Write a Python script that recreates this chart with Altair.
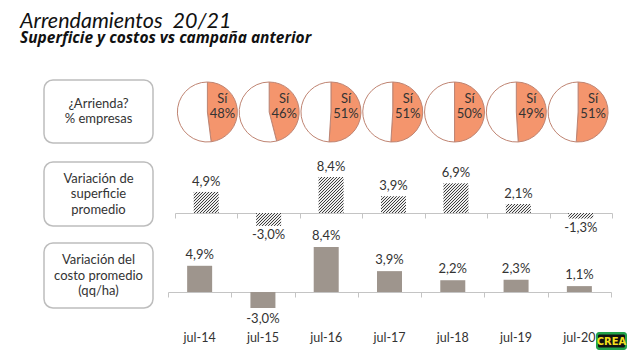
import math
import altair as alt
import pandas as pd

# ---------------- data ----------------
cats = ["jul-14", "jul-15", "jul-16", "jul-17", "jul-18", "jul-19", "jul-20"]
arrienda_pct = [48, 46, 51, 51, 50, 49, 51]
var_superficie = [4.9, -3.0, 8.4, 3.9, 6.9, 2.1, -1.3]
var_costo = [4.9, -3.0, 8.4, 3.9, 2.2, 2.3, 1.1]

title_text = "Arrendamientos\u00a0 20/21"
subtitle_text = "Superficie y costos vs campaña anterior"
row_labels = [
    ["¿Arrienda?", "% empresas"],
    ["Variación de", "superficie", "promedio"],
    ["Variación del", "costo promedio", "(qq/ha)"],
]
si_word = "Sí"
logo_text = "CREA"


def pct(v):
    return f"{v:.1f}".replace(".", ",") + "%"


df_pie = pd.DataFrame(
    [r for c, p in zip(cats, arrienda_pct) for r in (
        {"cat": c, "slice": "Sí", "t0": 0.0, "t1": p / 100},
        {"cat": c, "slice": "No", "t0": p / 100, "t1": 1.0},
    )]
)
df_pie_lab = pd.DataFrame({"cat": cats, "label": [f"{si_word}\n{p}%" for p in arrienda_pct]})
df_sup = pd.DataFrame({"cat": cats, "v": var_superficie, "label": [pct(v) for v in var_superficie]})
df_cost = pd.DataFrame({"cat": cats, "v": var_costo, "label": [pct(v) for v in var_costo]})
df_cats = pd.DataFrame({"cat": cats})
one = alt.Data(values=[{"k": 0}])

# ---------------- style ----------------
FONT = "Lato"
W, H = 624, 346
ORANGE = "#F4956D"
PIE_STROKE = "#BF8472"
BAR_GRAY = "#9E958D"
AXIS_GRAY = "#C4C4C4"
TXT = "#333333"
HATCH_DARK = "#3E3E3E"
HATCH_LIGHT = "#EEEEEE"
BAR_W = 25
HATCH_P = 3.0
HATCH_FRAC = 1.0 / 3.0

X_PIE = [168.5, 601]
X_MID = [167, 604]
X_BOT = [160, 603]
PIE_Y, PIE_R = 104, 30
MID_ZERO, MID_UNIT = 205, 4.3
BOT_ZERO, BOT_UNIT = 284, 5.35
DOM = [-4, 10]
BOXES = [(72, 135), (154, 218), (235, 300)]
BOX_X = (36, 145)
BOX_LH = 15.5


def xenc(rng, kind, axis=None):
    if kind == "band":
        sc = alt.Scale(type="band", domain=cats, range=rng, paddingInner=0, paddingOuter=0)
    else:
        sc = alt.Scale(type="point", domain=cats, range=rng, padding=0.5)
    return alt.X("cat:N", scale=sc, axis=axis)


def yenc(zero, unit):
    sc = alt.Scale(domain=DOM, range=[zero - DOM[0] * unit, zero - DOM[1] * unit], nice=False, zero=False)
    return alt.Y("v:Q", scale=sc, axis=None)


def axis_at(zero_y):
    return alt.Axis(
        orient="bottom", offset=zero_y - H, labels=False, title=None, grid=False,
        tickBand="extent", tickSize=5, tickColor=AXIS_GRAY, tickWidth=1,
        domainColor=AXIS_GRAY, domainWidth=1.2,
    )


def hatch(v, unit):
    hpx = max(abs(v) * unit, 1.0)
    b = hpx / BAR_W
    s = (1 + b) / (1 + b * b)
    n = BAR_W * (1 + b) / HATCH_P
    period = 1.0 / n
    stops = []
    t = 0.0
    while t < 1.0 - 1e-9:
        m = min(t + period * HATCH_FRAC, 1.0)
        e = min(t + period, 1.0)
        stops += [
            alt.GradientStop(offset=round(t, 6), color=HATCH_DARK),
            alt.GradientStop(offset=round(m, 6), color=HATCH_DARK),
            alt.GradientStop(offset=round(m, 6), color=HATCH_LIGHT),
            alt.GradientStop(offset=round(e, 6), color=HATCH_LIGHT),
        ]
        t += period
    return alt.LinearGradient(gradient="linear", stops=stops, x1=0, y1=0, x2=s, y2=s * b)


layers = []

# titles
layers.append(alt.Chart(one).mark_text(
    text=title_text, font=FONT, fontSize=21.5, fontStyle="italic", align="left",
    baseline="alphabetic", color="#111111").encode(x=alt.value(12), y=alt.value(20)))
layers.append(alt.Chart(one).mark_text(
    text=subtitle_text, font="Open Sans", fontSize=15.5, fontStyle="italic", fontWeight="bold",
    align="left", baseline="alphabetic", color="#111111").encode(x=alt.value(12), y=alt.value(35)))

# row label boxes
for lines, (y0, y1) in zip(row_labels, BOXES):
    layers.append(alt.Chart(one).mark_rect(
        cornerRadius=9, fill="white", stroke="#BDBDBD", strokeWidth=1.5).encode(
        x=alt.value(BOX_X[0]), x2=alt.value(BOX_X[1]), y=alt.value(y0), y2=alt.value(y1)))
    first_y = (y0 + y1) / 2 - (len(lines) - 1) * BOX_LH / 2
    layers.append(alt.Chart(one).mark_text(
        text=lines, font=FONT, fontSize=13, lineHeight=BOX_LH, align="center",
        baseline="middle", color=TXT).encode(
        x=alt.value((BOX_X[0] + BOX_X[1]) / 2), y=alt.value(first_y)))

# pies
layers.append(alt.Chart(df_pie).mark_arc(
    outerRadius=PIE_R, stroke=PIE_STROKE, strokeWidth=1).encode(
    x=xenc(X_PIE, "point"),
    y=alt.value(PIE_Y),
    theta=alt.Theta("t0:Q", scale=alt.Scale(domain=[0, 1], range=[0, 2 * math.pi])),
    theta2="t1:Q",
    fill=alt.Fill("slice:N", scale=alt.Scale(domain=["Sí", "No"], range=[ORANGE, "#FFFFFF"]), legend=None),
))
layers.append(alt.Chart(df_pie_lab).mark_text(
    font=FONT, fontSize=13, lineHeight=15, lineBreak="\n", align="center",
    baseline="middle", dx=15, color=TXT).encode(
    x=xenc(X_PIE, "point"), y=alt.value(PIE_Y - 13), text="label:N"))

# middle row: hatched bars
for i, (c, v) in enumerate(zip(cats, var_superficie)):
    layers.append(alt.Chart(df_sup).transform_filter(alt.datum.cat == c).mark_bar(
        width=BAR_W, fill=hatch(v, MID_UNIT), strokeWidth=0).encode(
        x=xenc(X_MID, "band", axis_at(MID_ZERO) if i == 0 else None),
        y=yenc(MID_ZERO, MID_UNIT), y2=alt.datum(0)))
layers.append(alt.Chart(df_sup).transform_filter(alt.datum.v >= 0).mark_text(
    font=FONT, fontSize=13, baseline="bottom", dy=-3, color=TXT).encode(
    x=xenc(X_MID, "point"), y=yenc(MID_ZERO, MID_UNIT), text="label:N"))
layers.append(alt.Chart(df_sup).transform_filter(alt.datum.v < 0).mark_text(
    font=FONT, fontSize=13, baseline="top", dy=3, color=TXT).encode(
    x=xenc(X_MID, "point"), y=yenc(MID_ZERO, MID_UNIT), text="label:N"))

# bottom row: solid bars
layers.append(alt.Chart(df_cost).mark_bar(width=BAR_W, color=BAR_GRAY).encode(
    x=xenc(X_BOT, "band", axis_at(BOT_ZERO)),
    y=yenc(BOT_ZERO, BOT_UNIT), y2=alt.datum(0)))
layers.append(alt.Chart(df_cost).transform_filter(alt.datum.v >= 0).mark_text(
    font=FONT, fontSize=13, baseline="bottom", dy=-4, color=TXT).encode(
    x=xenc(X_BOT, "point"), y=yenc(BOT_ZERO, BOT_UNIT), text="label:N"))
layers.append(alt.Chart(df_cost).transform_filter(alt.datum.v < 0).mark_text(
    font=FONT, fontSize=13, baseline="top", dy=5, color=TXT).encode(
    x=xenc(X_BOT, "point"), y=yenc(BOT_ZERO, BOT_UNIT), text="label:N"))

# category labels
layers.append(alt.Chart(df_cats).mark_text(
    font=FONT, fontSize=12.5, baseline="middle", color=TXT).encode(
    x=xenc(X_BOT, "point"), y=alt.value(330), text="cat:N"))

# logo
layers.append(alt.Chart(one).mark_rect(cornerRadius=3, fill="#22A24A").encode(
    x=alt.value(588), x2=alt.value(619), y=alt.value(324), y2=alt.value(342)))
layers.append(alt.Chart(one).mark_rect(cornerRadius=1.5, fill="#111111").encode(
    x=alt.value(590), x2=alt.value(617), y=alt.value(326.5), y2=alt.value(339.5)))
layers.append(alt.Chart(one).mark_text(
    text=logo_text, font="DejaVu Sans Condensed", fontWeight="bold", fontSize=11,
    color="#F3E01E", align="center", baseline="middle").encode(
    x=alt.value(603.5), y=alt.value(333.5)))

chart = alt.layer(*layers).resolve_scale(
    x="independent", y="independent", theta="independent", fill="independent"
).properties(
    width=W, height=H, autosize=alt.AutoSizeParams(type="none"), padding=0,
    background="white",
).configure_view(stroke=None)

chart.save("out.html", embed_options={"renderer": "svg", "actions": False})
